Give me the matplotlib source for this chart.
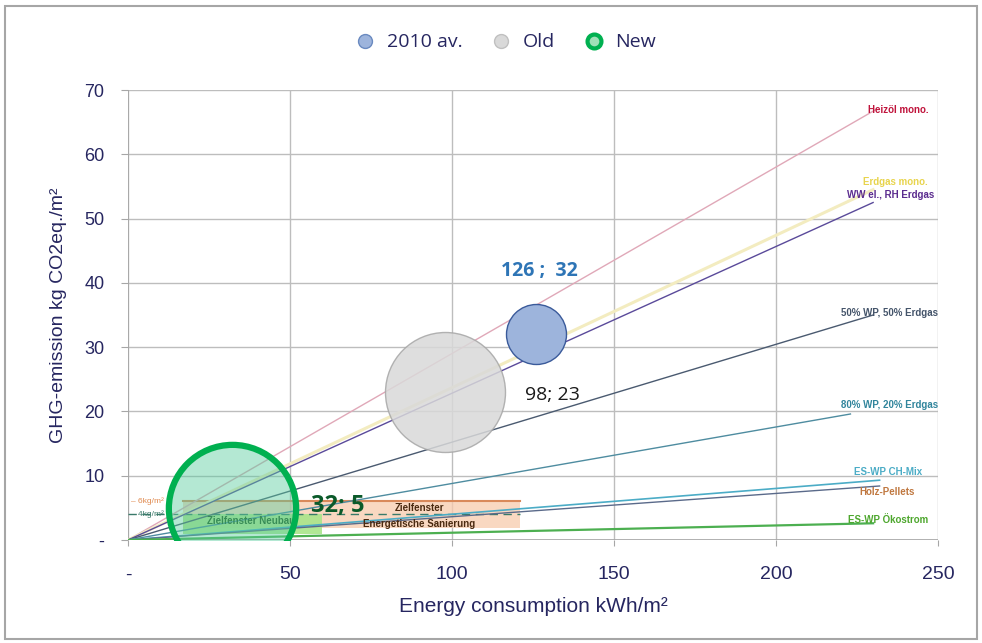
import numpy as np
import matplotlib
matplotlib.use('Agg')
import matplotlib.pyplot as plt
from matplotlib.lines import Line2D
from matplotlib.patches import Rectangle

# bubbles: energy consumption vs GHG emission
bubble_names = ['2010 av.', 'Old', 'New']
bubble_x = [126, 98, 32]
bubble_y = [32, 23, 5]
bubble_size = [1, 4, 4.5]          # relative bubble size
bubble_labels = ['126 ;  32', '98; 23', '32; 5']

# emission factor lines (from origin to end point)
line_names = ['Heizöl mono.', 'Erdgas mono.', 'WW el., RH Erdgas', '50% WP, 50% Erdgas',
              '80% WP, 20% Erdgas', 'ES-WP CH-Mix', 'Holz-Pellets', 'ES-WP Ökostrom']
line_end_x = [231, 230, 230, 230, 223, 232, 232, 230]
line_end_y = [67, 54.5, 52.5, 35, 19.6, 9.3, 8.4, 2.6]

# target windows
neubau_x = [17, 60]
neubau_y = [1, 4]
sanierung_x = [17, 121]
sanierung_y = [1.8, 6.2]
limit_values = [6, 4]

x_ticks = [0, 50, 100, 150, 200, 250]
x_ticklabels = ['-', '50', '100', '150', '200', '250']
y_ticks = [0, 10, 20, 30, 40, 50, 60, 70]
y_ticklabels = ['-', '10', '20', '30', '40', '50', '60', '70']

navy = '#262660'
lib = ['Liberation Sans', 'DejaVu Sans']
sans = ['Open Sans', 'DejaVu Sans']

fig = plt.figure(figsize=(9.82, 6.43), dpi=100)
fig.patches.append(Rectangle((0.005, 0.006), 0.99, 0.984, transform=fig.transFigure,
                             fill=False, edgecolor='#a6a6a6', lw=1.5))
ax = fig.add_axes([0.1303, 0.1602, 0.8248, 0.6998])

ax.set_xlim(0, 250)
ax.set_ylim(0, 70)
ax.grid(True, color='#bdbdbd', lw=1)
ax.set_axisbelow(True)
for s in ax.spines.values():
    s.set_visible(False)
ax.axhline(0, color='#a6a6a6', lw=1.2, zorder=1)
ax.axvline(0, color='#a6a6a6', lw=1.2, zorder=1)

ax.set_xticks(x_ticks)
ax.set_xticklabels(x_ticklabels, family=lib, fontsize=14, color=navy)
ax.set_yticks(y_ticks)
ax.set_yticklabels(y_ticklabels, family=lib, fontsize=13, color=navy)
ax.tick_params(axis='x', length=4, pad=15, color='#a6a6a6')
ax.tick_params(axis='y', length=5, pad=12, color='#a6a6a6')

ax.set_xlabel('Energy consumption kWh/m²', family=lib, fontsize=15, color=navy, labelpad=10)
ax.set_ylabel('GHG-emission kg CO2eq./m²', family=lib, fontsize=14, color=navy, labelpad=12)

# target windows
ax.fill_between(sanierung_x, sanierung_y[0], sanierung_y[1], color='#f8cbad', alpha=0.75, lw=0, zorder=2)
ax.fill_between(neubau_x, neubau_y[0], neubau_y[1], color='#a9e58a', alpha=0.9, lw=0, zorder=2)
ax.plot([sanierung_x[0], sanierung_x[1]], [limit_values[0]] * 2, color='#d9895a', lw=1.5, zorder=3)
ax.plot([0, sanierung_x[1]], [limit_values[1]] * 2, color='#3a7a6a', lw=1, ls=(0, (6, 4)), zorder=3)
ax.text(0.8, limit_values[0], '‒ 6kg/m²', color='#e08a50', fontsize=6, va='center', family=lib, zorder=4)
ax.text(0.8, limit_values[1], '‒ 4kg/m²', color='#3a7a6a', fontsize=6, va='center', family=lib, zorder=4)
ax.text(38, 3.0, 'Zielfenster Neubau', color='#1e5a1e', fontsize=7, fontweight='bold',
        ha='center', va='center', family=lib, zorder=4)
ax.text(90, 5.0, 'Zielfenster', color='#4a2a10', fontsize=7, fontweight='bold',
        ha='center', va='center', family=lib, zorder=4)
ax.text(90, 2.5, 'Energetische Sanierung', color='#4a2a10', fontsize=7, fontweight='bold',
        ha='center', va='center', family=lib, zorder=4)

# emission factor lines
line_colors = ['#e0a8b8', '#f3ecc0', '#5a4a9a', '#4a5a70', '#4e8ca0', '#4bacc6', '#5a6a8a', '#4caf50']
line_widths = [1, 2.2, 1, 1, 1, 1.2, 1, 1.6]
label_colors = ['#c0143c', '#e8d44d', '#5b2c8f', '#44546a', '#31859c', '#4bacc6', '#c07840', '#4ea72e']
label_pos = [(247, 66.9), (247, 55.7), (249, 53.7), (250, 35.3), (250, 21), (245, 10.6), (243, 7.5), (247, 3.1)]
for i in range(len(line_names)):
    ax.plot([0, line_end_x[i]], [0, line_end_y[i]], color=line_colors[i], lw=line_widths[i], zorder=3)
    ax.text(label_pos[i][0], label_pos[i][1], line_names[i], color=label_colors[i], fontsize=7,
            fontweight='bold', ha='right', va='center', family=lib, zorder=4)

# bubbles
face = ['#9db4dc', '#d9d9d9', (0.35, 0.80, 0.62, 0.45)]
edge = ['#3a5a9a', '#a6a6a6', '#00b050']
ew = [1, 1, 4.5]
alphas = [None, 0.85, None]
for i in range(len(bubble_names)):
    ax.scatter(bubble_x[i], bubble_y[i], s=1866 * bubble_size[i], facecolor=face[i],
               edgecolor=edge[i], linewidth=ew[i], alpha=alphas[i], zorder=5)

ax.text(bubble_x[0] + 1, bubble_y[0] + 9.8, bubble_labels[0], color='#2e75b6', fontsize=14,
        fontweight='bold', ha='center', va='center', family=sans, zorder=6)
ax.text(bubble_x[1] + 24.5, bubble_y[1] - 0.5, bubble_labels[1], color='#1a1a1a', fontsize=14,
        ha='left', va='center', family=sans, zorder=6)
ax.text(bubble_x[2] + 24.5, bubble_y[2] + 0.3, bubble_labels[2], color='#0b5a2a', fontsize=17,
        fontweight='bold', ha='left', va='center', family=sans, zorder=6)

# legend
handles = [Line2D([], [], marker='o', ls='', markersize=10, markerfacecolor='#9db4dc', markeredgecolor='#6a8ac0'),
           Line2D([], [], marker='o', ls='', markersize=10, markerfacecolor='#d9d9d9', markeredgecolor='#c0c0c0'),
           Line2D([], [], marker='o', ls='', markersize=10, markerfacecolor='#9fe0b8', markeredgecolor='#00b050',
                  markeredgewidth=3)]
leg = fig.legend(handles, bubble_names, loc='center', bbox_to_anchor=(0.51, 0.934), ncol=3, frameon=False,
                 handletextpad=0.1, columnspacing=1.0, prop={'family': sans, 'size': 14})
for t in leg.get_texts():
    t.set_color(navy)

fig.savefig('out.png', dpi=100)
